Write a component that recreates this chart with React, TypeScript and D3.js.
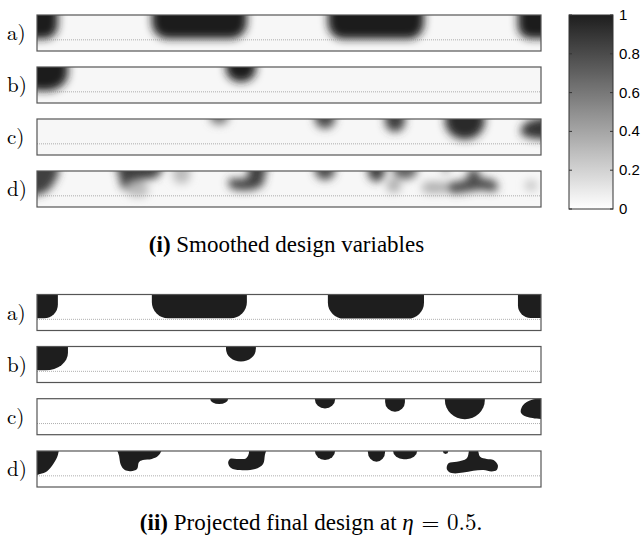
import React from "react";
import * as d3 from "d3";

type Blob = { v: number; rect?: number[]; pts?: number[][] };

// design domain: length 14, height 1 (y measured from top)
const rowLabels = ["a)", "b)", "c)", "d)"];

const rowA: Blob[] = [
  { v: 1, rect: [-0.5, 0.58, -0.5, 0.66, 0.38, 0.38] },
  { v: 1, rect: [3.19, 5.83, -0.5, 0.66, 0.45, 0.45] },
  { v: 1, rect: [8.08, 10.75, -0.5, 0.67, 0.45, 0.45] },
  { v: 1, rect: [13.36, 14.5, -0.5, 0.65, 0.35, 0.35] },
];

const rowB: Blob[] = [
  { v: 1, rect: [-0.5, 0.86, -0.5, 0.66, 0.62, 0.48] },
  { v: 1, rect: [5.25, 6.08, -0.5, 0.42, 0.42, 0.36] },
];

const rowC: Blob[] = [
  { v: 0.6, rect: [4.81, 5.31, -0.5, 0.15, 0.25, 0.15] },
  { v: 0.8, rect: [7.72, 8.28, -0.5, 0.27, 0.28, 0.25] },
  { v: 0.85, rect: [9.67, 10.22, -0.5, 0.36, 0.27, 0.27] },
  { v: 0.95, rect: [11.33, 12.44, -0.5, 0.57, 0.55, 0.55] },
  { v: 0.9, pts: [[14.4, 0.0], [13.75, 0.03], [13.5, 0.18], [13.44, 0.38], [13.6, 0.5], [14.4, 0.5]] },
];

const rowD: Blob[] = [
  { v: 0.85, pts: [[-0.33, -0.19], [0.58, -0.19], [0.58, 0.11], [0.47, 0.33], [0.28, 0.56], [0.08, 0.64], [-0.33, 0.69]] },
  { v: 0.85, pts: [[2.22, -0.19], [3.5, -0.19], [3.44, 0.03], [3.36, 0.14], [3.19, 0.22], [2.94, 0.25], [2.83, 0.31], [2.78, 0.5], [2.61, 0.56], [2.44, 0.53], [2.33, 0.39], [2.28, 0.14]] },
  { v: 0.85, pts: [[5.83, -0.19], [6.39, -0.19], [6.33, 0.11], [6.28, 0.36], [6.06, 0.5], [5.64, 0.53], [5.39, 0.47], [5.31, 0.33], [5.36, 0.22], [5.56, 0.22], [5.81, 0.2], [5.89, 0.03]] },
  { v: 0.8, rect: [7.72, 8.28, -0.5, 0.25, 0.28, 0.25] },
  { v: 0.85, rect: [9.19, 9.67, -0.5, 0.3, 0.24, 0.28] },
  { v: 0.7, rect: [9.89, 10.56, -0.5, 0.23, 0.3, 0.23] },
  { v: 0.5, rect: [11.28, 11.42, -0.5, 0.08, 0.07, 0.07] },
  { v: 0.8, pts: [[11.38, 0.48], [11.43, 0.34], [11.66, 0.3], [11.94, 0.2], [12.03, -0.06], [12.22, -0.06], [12.31, 0.16], [12.49, 0.22], [12.68, 0.25], [12.8, 0.39], [12.77, 0.53], [12.63, 0.57], [12.4, 0.53], [12.12, 0.55], [11.84, 0.6], [11.56, 0.62], [11.43, 0.57]] },
  { v: 0.3, rect: [3.78, 4.25, -0.5, 0.35, 0.2, 0.2] },
  { v: 0.35, rect: [10.69, 11.39, 0.3, 0.62, 0.16, 0.16] },
  { v: 0.25, rect: [13.55, 13.9, 0.25, 0.55, 0.15, 0.15] },
  { v: 0.3, rect: [2.5, 3.1, 0.3, 0.72, 0.2, 0.2] },
  { v: 0.35, rect: [9.72, 10.1, 0.2, 0.6, 0.15, 0.15] },
];

const rows = [rowA, rowB, rowC, rowD];
const dottedLevel = 0.69;
const cbTicks = [0, 0.2, 0.4, 0.6, 0.8, 1];
const cbTickLabels = ["0", "0.2", "0.4", "0.6", "0.8", "1"];

const W = 644, H = 537;
const x = d3.scaleLinear().domain([0, 14]).range([37, 541]);
const PH = 36;
const topsI = [15, 67, 119, 171];
const topsII = [294.5, 346.5, 398.7, 451];
const gray = d3.scaleLinear<string>().domain([0, 1]).range(["#ffffff", "#1e1e1e"]);
const cbY = d3.scaleLinear().domain([0, 1]).range([209, 15]);
const CB_X0 = 569, CB_X1 = 613;
const CM = "'Latin Modern Roman', 'Liberation Serif', serif";
const TIMES = "'Liberation Serif', 'Times New Roman', serif";

function shapes(blobs: Blob[], top: number, fillFn: (b: Blob) => string) {
  const y = d3.scaleLinear().domain([0, 1]).range([top, top + PH]);
  const unit = x(1) - x(0);
  const line = d3.line<number[]>().x(p => x(p[0])).y(p => y(p[1])).curve(d3.curveCatmullRomClosed.alpha(0.5));
  return blobs.map((b, i) => {
    if (b.rect) {
      const [x0, x1, y0, y1, rx, ry] = b.rect;
      return <rect key={i} x={x(x0)} y={y(y0)} width={x(x1) - x(x0)} height={y(y1) - y(y0)} rx={rx * unit} ry={ry * unit} fill={fillFn(b)} />;
    }
    return <path key={i} d={line(b.pts!) || ""} fill={fillFn(b)} />;
  });
}

function Panel({ blobs, top, idx, smooth }: { blobs: Blob[]; top: number; idx: string; smooth: boolean }) {
  const y = d3.scaleLinear().domain([0, 1]).range([top, top + PH]);
  const id = `clip-${idx}`;
  return (
    <g>
      <clipPath id={id}>
        <rect x={x(0)} y={y(0)} width={x(14) - x(0)} height={PH} />
      </clipPath>
      <g clipPath={`url(#${id})`}>
        <rect x={x(0)} y={y(0)} width={x(14) - x(0)} height={PH} fill={smooth ? "#f7f7f7" : "#ffffff"} />
        {smooth ? (
          <g filter="url(#blur)">{shapes(blobs, top, b => gray(b.v))}</g>
        ) : (
          <g>{shapes(blobs.filter(b => b.v >= 0.5), top, () => "#1e1e1e")}</g>
        )}
      </g>
      <line x1={x(0)} x2={x(14)} y1={y(dottedLevel)} y2={y(dottedLevel)} stroke="#9a9a9a" strokeWidth={0.8} strokeDasharray="1 1" />
      <rect x={x(0)} y={y(0)} width={x(14) - x(0)} height={PH} fill="none" stroke="#555" strokeWidth={1.2} />
    </g>
  );
}

export default function App() {
  return (
    <svg width={W} height={H} style={{ position: "absolute", left: 0, top: 0, background: "#fff" }}>
      <defs>
        <filter id="blur" x="-20%" y="-100%" width="140%" height="300%">
          <feGaussianBlur stdDeviation={4.5} />
        </filter>
        <linearGradient id="cbgrad" x1="0" y1="1" x2="0" y2="0">
          {d3.range(0, 1.0001, 0.05).map(t => (
            <stop key={t} offset={t} stopColor={gray(t)} />
          ))}
        </linearGradient>
      </defs>
      <rect width={W} height={H} fill="#fff" />
      {rows.map((r, i) => (
        <g key={"i" + i}>
          <Panel blobs={r} top={topsI[i]} idx={"i" + i} smooth={true} />
          <text x={7} y={topsI[i] + PH / 2 + 7} fontFamily={CM} fontSize={21}>{rowLabels[i]}</text>
        </g>
      ))}
      {rows.map((r, i) => (
        <g key={"ii" + i}>
          <Panel blobs={r} top={topsII[i]} idx={"ii" + i} smooth={false} />
          <text x={7} y={topsII[i] + PH / 2 + 7} fontFamily={CM} fontSize={21}>{rowLabels[i]}</text>
        </g>
      ))}
      {/* colorbar */}
      <rect x={CB_X0} y={cbY(1)} width={CB_X1 - CB_X0} height={cbY(0) - cbY(1)} fill="url(#cbgrad)" stroke="#333" strokeWidth={1} />
      {cbTicks.map((t, i) => (
        <g key={t}>
          <line x1={CB_X0} x2={CB_X0 + 3} y1={cbY(t)} y2={cbY(t)} stroke="#333" />
          <line x1={CB_X1 - 3} x2={CB_X1} y1={cbY(t)} y2={cbY(t)} stroke="#333" />
          <text x={CB_X1 + 6} y={cbY(t) + 5} fontFamily="'Liberation Sans', Arial, sans-serif" fontSize={15}>{cbTickLabels[i]}</text>
        </g>
      ))}
      {/* captions */}
      <text x={286.5} y={252} textAnchor="middle" fontFamily={TIMES} fontSize={23}>
        <tspan fontWeight="bold">(i)</tspan> Smoothed design variables
      </text>
      <text x={311} y={530} textAnchor="middle" fontFamily={TIMES} fontSize={23}>
        <tspan fontWeight="bold">(ii)</tspan> Projected final design at <tspan fontFamily={CM} fontStyle="italic">η</tspan><tspan fontFamily={CM}> = 0.5</tspan>.
      </text>
    </svg>
  );
}
